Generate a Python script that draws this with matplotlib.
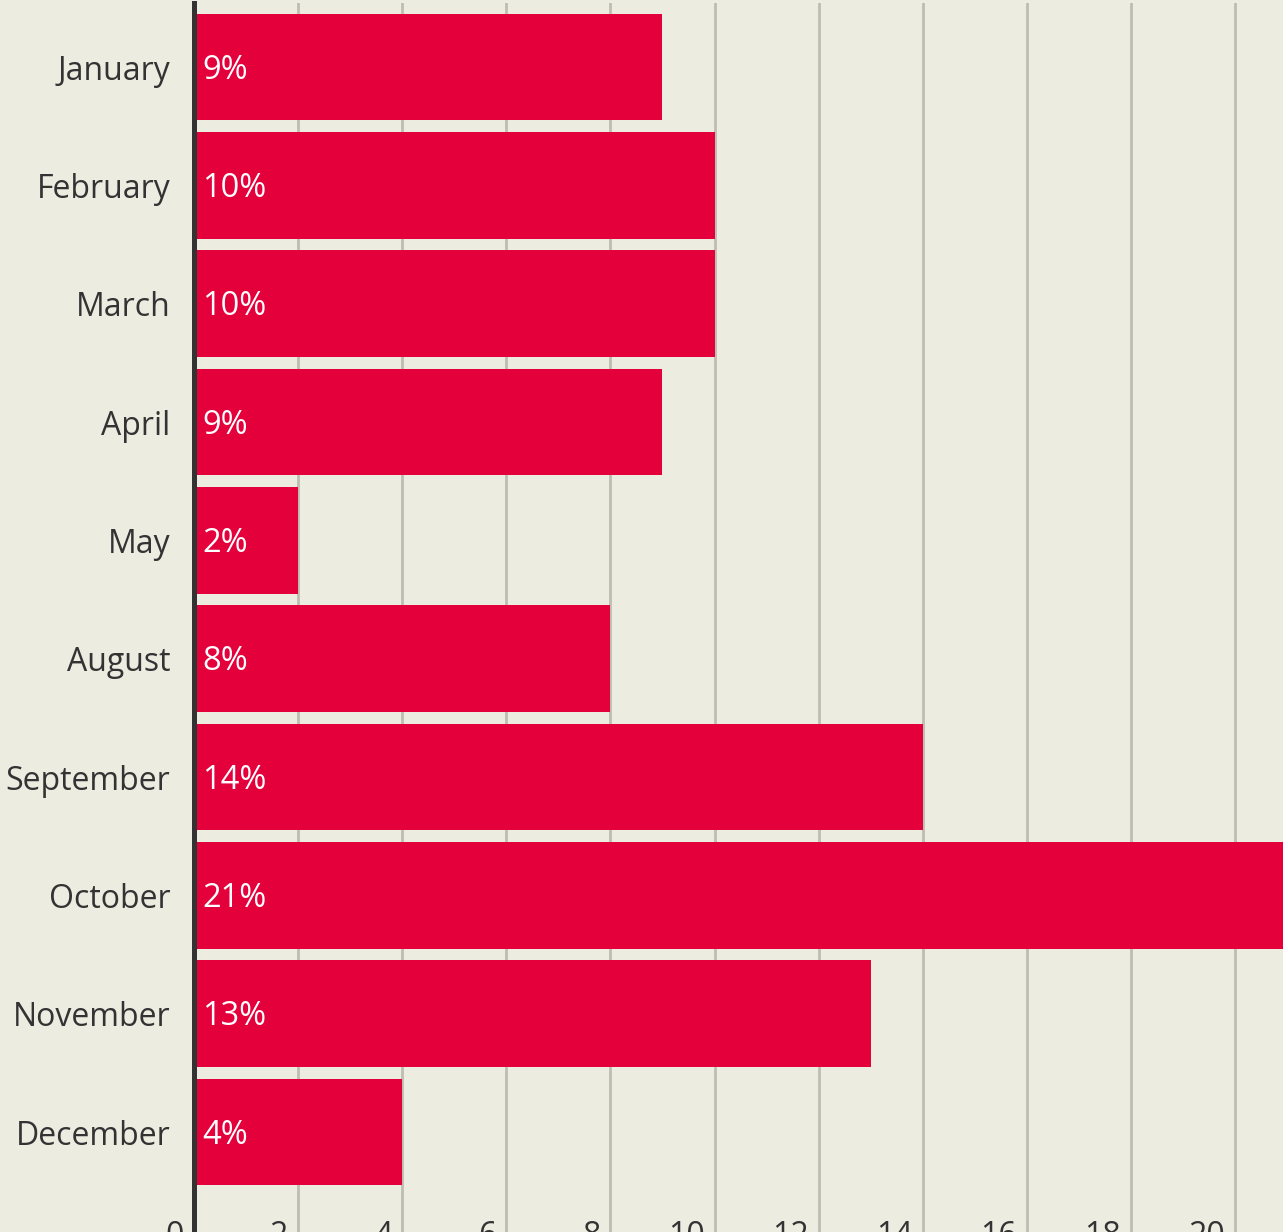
import matplotlib
matplotlib.use('Agg')
import matplotlib.pyplot as plt

# données
mois = ["January", "February", "March", "April", "May",
        "August", "September", "October", "November", "December"]
valeurs = [9, 10, 10, 9, 2, 8, 14, 21, 13, 4]
graduations = [0, 2, 4, 6, 8, 10, 12, 14, 16, 18, 20]

fond = "#EDECE1"
rouge = "#E4003B"
gris = "#333333"

plt.rcParams['font.family'] = ['Open Sans', 'DejaVu Sans']

fig = plt.figure(figsize=(12.83, 12.32), dpi=100)
fig.patch.set_facecolor(fond)
ax = fig.add_axes([194 / 1283, 0, (1283 - 194) / 1283, (1232 - 3) / 1232])
ax.set_facecolor(fond)

pos = list(range(len(mois)))
ax.barh(pos, valeurs, height=0.9, color=rouge, zorder=2)

# étiquettes des barres
for p, v in zip(pos, valeurs):
    ax.annotate(f"{v}%", xy=(0, p), xytext=(8, 1), textcoords="offset pixels",
                ha="left", va="center_baseline", color="white", fontsize=23.5, zorder=3)

ax.set_xlim(0, 20.92)
ax.set_ylim(9.845, -0.541)

ax.set_yticks(pos)
ax.set_yticklabels(mois, fontsize=23, color=gris, va="center_baseline")
ax.tick_params(axis="y", length=0, pad=17)

# graduations en bas, décalées à gauche du trait
ax.set_xticks(graduations)
ax.set_xticklabels([])
ax.tick_params(axis="x", length=0)
for g in graduations:
    ax.annotate(str(g), xy=(g, 0), xycoords=("data", "axes fraction"),
                xytext=(-10, 12), textcoords="offset pixels",
                ha="right", va="top", fontsize=23, color=gris,
                annotation_clip=False)

ax.xaxis.grid(True, color="#BDBDB2", linewidth=2, zorder=0)
ax.set_axisbelow(True)

for s in ["top", "right", "bottom"]:
    ax.spines[s].set_visible(False)
ax.spines["left"].set_color(gris)
ax.spines["left"].set_linewidth(3.6)
ax.spines["left"].set_zorder(4)

fig.savefig("out.png", dpi=100, facecolor=fond)
plt.close(fig)
